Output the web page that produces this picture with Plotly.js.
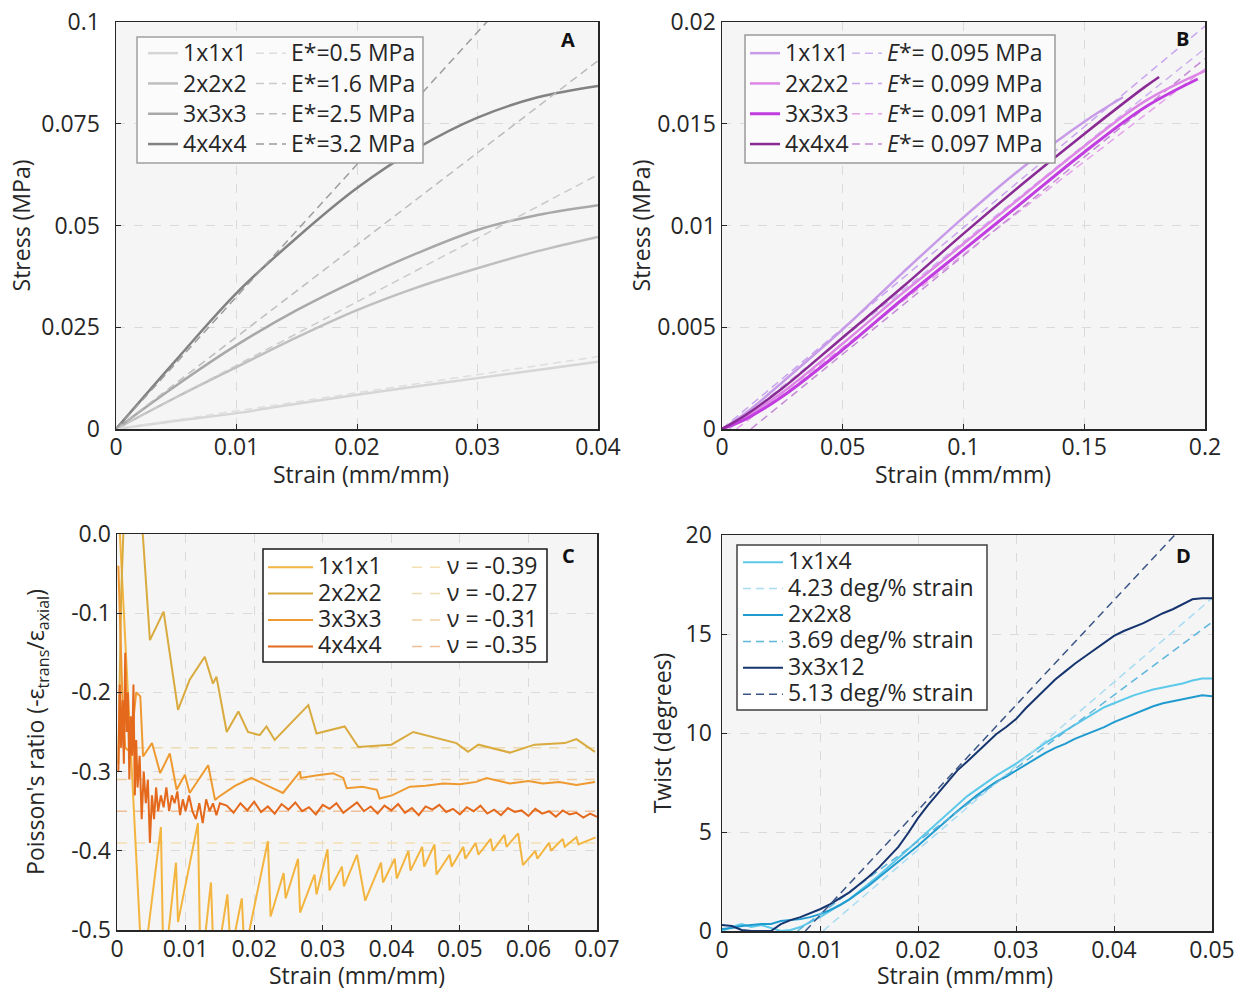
<!DOCTYPE html>
<html><head><meta charset="utf-8">
<script src="https://cdn.plot.ly/plotly-3.0.1.min.js"></script>
<style>html,body{margin:0;padding:0;background:#fff}</style>
</head><body><div id="chart" style="width:1250px;height:992px"></div>
<script>
// ---------- Panel A : stress-strain (gray) ----------
const strainA = [0, 0.005, 0.01, 0.015, 0.02, 0.025, 0.03, 0.035, 0.04];
const stressA1 = [0, 0.002, 0.0039, 0.0062, 0.0084, 0.0105, 0.0125, 0.0145, 0.0165];
const stressA2 = [0, 0.0078, 0.0152, 0.0225, 0.0292, 0.0348, 0.0395, 0.0437, 0.0472];
const stressA3 = [0, 0.0107, 0.0206, 0.0292, 0.0366, 0.0432, 0.0489, 0.0526, 0.055];
const stressA4 = [0, 0.017, 0.0334, 0.047, 0.0592, 0.069, 0.0765, 0.0815, 0.0843];
const fitStrainA = [0, 0.04];
const fitStressA = [[0, 0.0178], [0, 0.0625], [0, 0.0905], [0, 0.13]];
const namesA = ['1x1x1', '2x2x2', '3x3x3', '4x4x4'];
const fitNamesA = ['E*=0.5 MPa', 'E*=1.6 MPa', 'E*=2.5 MPa', 'E*=3.2 MPa'];

// ---------- Panel B : stress-strain (purple) ----------
const strainB1 = [0, 0.01, 0.025, 0.05, 0.075, 0.1, 0.125, 0.15, 0.166];
const stressB1 = [0, 0.0008, 0.0023, 0.0049, 0.0077, 0.0104, 0.0129, 0.0151, 0.0163];
const strainB2 = [0, 0.01, 0.025, 0.05, 0.075, 0.1, 0.125, 0.15, 0.175, 0.2];
const stressB2 = [0, 0.0006, 0.0018, 0.0042, 0.0067, 0.0091, 0.0115, 0.0139, 0.0161, 0.0176];
const strainB3 = [0, 0.01, 0.025, 0.05, 0.075, 0.1, 0.125, 0.15, 0.175, 0.197];
const stressB3 = [0, 0.0005, 0.0016, 0.0039, 0.0064, 0.0088, 0.0112, 0.0136, 0.0158, 0.0172];
const strainB4 = [0, 0.01, 0.025, 0.05, 0.075, 0.1, 0.125, 0.15, 0.175, 0.181];
const stressB4 = [0, 0.0007, 0.002, 0.0045, 0.0070, 0.0096, 0.0121, 0.0145, 0.0168, 0.0173];
const fitStrainB = [[0.003, 0.2], [0, 0.2], [0.006, 0.2], [0.012, 0.2]];
const fitStressB = [[0, 0.0187], [0, 0.0198], [0, 0.0177], [0, 0.0182]];
const fitNamesB = ['<i>E</i>*= 0.095 MPa', '<i>E</i>*= 0.099 MPa', '<i>E</i>*= 0.091 MPa', '<i>E</i>*= 0.097 MPa'];

// ---------- Panel C : Poisson's ratio ----------
const strainC1 = [0.0003,0.0037,0.0064,0.0068,0.0086,0.0089,0.0118,0.0122,0.0137,0.0142,0.0161,0.0166,0.0182,0.0186,0.0220,0.0224,0.0243,0.0246,0.0264,0.0267,0.0288,0.0291,0.0307,0.0310,0.0328,0.0331,0.0350,0.0362,0.0385,0.0388,0.0405,0.0408,0.0425,0.0428,0.0445,0.0448,0.0463,0.0466,0.0485,0.0488,0.0505,0.0508,0.0523,0.0527,0.0545,0.0548,0.0565,0.0568,0.0585,0.0592,0.0610,0.0613,0.0630,0.0633,0.0650,0.0653,0.0670,0.0673,0.0698];
const poissonC1 = [0.02,-0.56,-0.37,-0.56,-0.415,-0.49,-0.365,-0.56,-0.44,-0.56,-0.455,-0.53,-0.46,-0.53,-0.388,-0.483,-0.428,-0.46,-0.41,-0.478,-0.43,-0.455,-0.398,-0.45,-0.42,-0.445,-0.405,-0.463,-0.415,-0.44,-0.41,-0.435,-0.40,-0.425,-0.395,-0.42,-0.392,-0.43,-0.405,-0.42,-0.395,-0.41,-0.39,-0.405,-0.385,-0.40,-0.38,-0.395,-0.378,-0.418,-0.40,-0.41,-0.39,-0.40,-0.385,-0.395,-0.383,-0.392,-0.383];
const strainC2 = [0.0002,0.0006,0.0010,0.0036,0.0048,0.0068,0.0089,0.0106,0.0128,0.0140,0.0145,0.0160,0.0177,0.0191,0.0208,0.0218,0.0230,0.0279,0.0291,0.0332,0.0352,0.0400,0.0432,0.0495,0.0512,0.0527,0.0573,0.0609,0.0653,0.0670,0.0697];
const poissonC2 = [-0.29,-0.08,0.02,0.02,-0.134,-0.098,-0.222,-0.184,-0.155,-0.189,-0.18,-0.25,-0.224,-0.25,-0.254,-0.243,-0.26,-0.216,-0.252,-0.243,-0.269,-0.266,-0.25,-0.264,-0.275,-0.266,-0.276,-0.266,-0.264,-0.259,-0.275];
const strainC3 = [0.0002,0.0008,0.0012,0.0019,0.0028,0.0034,0.0038,0.0051,0.0063,0.0077,0.0087,0.0099,0.0106,0.0133,0.0143,0.0148,0.0172,0.0196,0.0220,0.0242,0.0267,0.0268,0.0290,0.0315,0.0330,0.0335,0.0358,0.0379,0.0383,0.0401,0.0427,0.0450,0.0476,0.0500,0.0524,0.0539,0.0573,0.0600,0.0621,0.0645,0.0670,0.0697];
const poissonC3 = [-0.04,-0.21,-0.27,-0.275,-0.20,-0.205,-0.281,-0.264,-0.302,-0.277,-0.323,-0.304,-0.327,-0.292,-0.336,-0.332,-0.318,-0.308,-0.318,-0.327,-0.300,-0.308,-0.305,-0.302,-0.308,-0.321,-0.319,-0.323,-0.334,-0.330,-0.319,-0.318,-0.315,-0.316,-0.313,-0.308,-0.315,-0.312,-0.315,-0.313,-0.317,-0.313];
const strainC4 = [0.0002,0.0004,0.0006,0.0008,0.0010,0.0012,0.0014,0.0016,0.0018,0.0020,0.0022,0.0024,0.0026,0.0028,0.0030,0.0033,0.0036,0.0039,0.0042,0.0045,0.0048,0.0051,0.0054,0.0057,0.0060,0.0064,0.0068,0.0072,0.0076,0.0080,0.0084,0.0088,0.0092,0.0096,0.0100,0.0105,0.0110,0.0115,0.0120,0.0125,0.0130,0.0135,0.0140,0.0145,0.0150,
  0.016,0.017,0.018,0.019,0.020,0.021,0.022,0.023,0.024,0.025,0.026,0.027,0.028,0.029,0.030,0.031,0.032,0.033,0.034,0.035,0.036,0.037,0.038,0.039,0.040,0.041,0.042,0.043,0.044,0.045,0.046,0.047,0.048,0.049,0.050,0.051,0.052,0.053,0.054,0.055,0.056,0.057,0.058,0.059,0.060,0.061,0.062,0.063,0.064,0.065,0.066,0.067,0.068,0.069,0.070];
const poissonC4 = [-0.30,-0.19,-0.27,-0.21,-0.29,-0.15,-0.25,-0.20,-0.31,-0.23,-0.28,-0.19,-0.33,-0.26,-0.32,-0.28,-0.36,-0.30,-0.34,-0.31,-0.39,-0.33,-0.36,-0.32,-0.35,-0.33,-0.345,-0.32,-0.35,-0.33,-0.34,-0.325,-0.355,-0.335,-0.35,-0.33,-0.35,-0.36,-0.34,-0.365,-0.335,-0.35,-0.34,-0.355,-0.34,
  -0.343,-0.352,-0.340,-0.349,-0.338,-0.351,-0.344,-0.353,-0.341,-0.348,-0.339,-0.350,-0.345,-0.354,-0.342,-0.347,-0.340,-0.352,-0.346,-0.339,-0.350,-0.344,-0.353,-0.343,-0.349,-0.341,-0.352,-0.346,-0.355,-0.344,-0.348,-0.342,-0.351,-0.347,-0.354,-0.345,-0.350,-0.343,-0.353,-0.348,-0.355,-0.346,-0.351,-0.349,-0.356,-0.347,-0.353,-0.350,-0.357,-0.349,-0.354,-0.352,-0.358,-0.353,-0.357];
const fitStrainC = [0, 0.07];
const nuFitC = [-0.39, -0.27, -0.31, -0.35];

// ---------- Panel D : twist ----------
const strainD = [0,0.001,0.002,0.003,0.004,0.005,0.006,0.007,0.008,0.009,0.010,0.011,0.012,0.013,0.014,0.015,0.016,0.017,0.018,0.019,0.020,0.021,0.022,0.023,0.024,0.025,0.026,0.027,0.028,0.029,0.030,0.031,0.032,0.033,0.034,0.035,0.036,0.037,0.038,0.039,0.040,0.041,0.042,0.043,0.044,0.045,0.046,0.047,0.048,0.049,0.050];
const twistD1 = [0.0,0.2,0.35,0.2,0.3,0.15,0.0,0.05,0.2,0.45,0.7,1.0,1.3,1.6,2.0,2.4,2.8,3.25,3.7,4.15,4.6,5.05,5.5,5.95,6.4,6.8,7.15,7.5,7.85,8.15,8.45,8.8,9.15,9.5,9.8,10.1,10.4,10.7,11.0,11.3,11.5,11.7,11.9,12.05,12.2,12.3,12.4,12.5,12.65,12.75,12.75];
const twistD2 = [0.1,0.15,0.25,0.3,0.35,0.35,0.5,0.55,0.6,0.7,0.85,1.05,1.3,1.6,1.95,2.3,2.7,3.1,3.5,3.9,4.3,4.75,5.2,5.6,6.05,6.45,6.85,7.2,7.55,7.8,8.1,8.4,8.7,9.0,9.25,9.45,9.7,9.9,10.1,10.3,10.55,10.75,10.95,11.15,11.35,11.5,11.6,11.7,11.8,11.9,11.85];
const twistD3 = [0.3,0.25,0.05,0.0,0.0,0.0,0.35,0.55,0.7,0.9,1.1,1.35,1.65,1.95,2.35,2.75,3.2,3.7,4.25,4.95,5.7,6.35,6.95,7.55,8.1,8.55,9.0,9.5,9.95,10.3,10.7,11.25,11.75,12.2,12.7,13.1,13.5,13.85,14.2,14.55,14.9,15.15,15.35,15.55,15.8,16.05,16.25,16.5,16.75,16.8,16.8];
const fitStrainD = [[0.0103, 0.05], [0.0077, 0.05], [0.0085, 0.0462]];
const fitTwistD = [[0, 16.8], [0, 15.6], [0, 20]];
const namesD = ['1x1x4', '2x2x8', '3x3x12'];
const fitNamesD = ['4.23 deg/% strain', '3.69 deg/% strain', '5.13 deg/% strain'];

// ---------- styling ----------
const F = '"Open Sans", "Noto Sans", sans-serif';
const TXT = '#262626';
const big = s => '<span style="font-size:23px">' + s + '</span>';

const colA = ['#d6d6d6', '#bfbfbf', '#a8a8a8', '#828282'];
const colAfit = ['#dedede', '#cacaca', '#bcbcbc', '#9c9c9c'];
const colB = ['#c79be8', '#dd86e6', '#c23de0', '#8a2a95'];
const colBfit = ['#cdb4ee', '#c9a4ee', '#e6a2ec', '#c58ad6'];
const colC = ['#f3b53f', '#d9aa3e', '#ee9a30', '#e4691c'];
const colCfit = ['#f2e0b0', '#ecdcb4', '#efcfa2', '#eebf98'];
const colD = ['#5cc8ea', '#1f9bcf', '#16346e'];
const colDfit = ['#a9dcf2', '#5fb6dc', '#3a5586'];

const traces = [];
const stressA = [stressA1, stressA2, stressA3, stressA4];
namesA.forEach((n, i) => traces.push({x: strainA, y: stressA[i], type: 'scatter', mode: 'lines', name: big(n),
  line: {color: colA[i], width: 2.5, shape: 'spline'}, xaxis: 'x', yaxis: 'y', legend: 'legend'}));
fitNamesA.forEach((n, i) => traces.push({x: fitStrainA, y: fitStressA[i], type: 'scatter', mode: 'lines', name: big(n),
  line: {color: colAfit[i], width: 1.5, dash: '8px,5px'}, xaxis: 'x', yaxis: 'y', legend: 'legend2'}));

const strainB = [strainB1, strainB2, strainB3, strainB4];
const stressB = [stressB1, stressB2, stressB3, stressB4];
fitNamesB.forEach((n, i) => traces.push({x: fitStrainB[i], y: fitStressB[i], type: 'scatter', mode: 'lines', name: big(n),
  line: {color: colBfit[i], width: 1.5, dash: '8px,5px'}, xaxis: 'x2', yaxis: 'y2', legend: 'legend4'}));
namesA.forEach((n, i) => traces.push({x: strainB[i], y: stressB[i], type: 'scatter', mode: 'lines', name: big(n),
  line: {color: colB[i], width: i === 2 ? 3 : 2.5, shape: 'spline'}, xaxis: 'x2', yaxis: 'y2', legend: 'legend3'}));

const strainC = [strainC1, strainC2, strainC3, strainC4];
const poissonC = [poissonC1, poissonC2, poissonC3, poissonC4];
nuFitC.forEach((v, i) => traces.push({x: fitStrainC, y: [v, v], type: 'scatter', mode: 'lines', name: big('ν = ' + v.toFixed(2)),
  line: {color: colCfit[i], width: 1.5, dash: '10px,8px'}, xaxis: 'x3', yaxis: 'y3', legend: 'legend6'}));
namesA.forEach((n, i) => traces.push({x: strainC[i], y: poissonC[i], type: 'scatter', mode: 'lines', name: big(n),
  line: {color: colC[i], width: 2}, xaxis: 'x3', yaxis: 'y3', legend: 'legend5'}));

const twistD = [twistD1, twistD2, twistD3];
namesD.forEach((n, i) => {
  traces.push({x: strainD, y: twistD[i], type: 'scatter', mode: 'lines', name: big(n),
    line: {color: colD[i], width: 2}, xaxis: 'x4', yaxis: 'y4', legend: 'legend7'});
  traces.push({x: fitStrainD[i], y: fitTwistD[i], type: 'scatter', mode: 'lines', name: big(fitNamesD[i]),
    line: {color: colDfit[i], width: 1.5, dash: '8px,5px'}, xaxis: 'x4', yaxis: 'y4', legend: 'legend7'});
});

function axis(domain, range, vals, texts, title, anchor, standoff, labStand) {
  const a = {
    domain: domain, range: range, anchor: anchor, tickmode: 'array', tickvals: vals, ticktext: texts,
    showline: true, linecolor: TXT, linewidth: 1.5, mirror: true,
    ticks: 'inside', ticklen: 5, tickcolor: TXT, tickwidth: 1,
    showgrid: true, gridcolor: '#dadada', griddash: 'dash', gridwidth: 1, zeroline: false,
    tickfont: {family: F, size: 23, color: TXT}, ticklabelstandoff: labStand,
    automargin: false, fixedrange: true
  };
  if (title) a.title = {text: title, font: {family: F, size: 23, color: TXT}, standoff: standoff};
  return a;
}
const px = X => X / 1250, py = Y => 1 - Y / 992;
const xTitle = 'Strain (mm/mm)';

const layout = {
  width: 1250, height: 992, margin: {l: 0, r: 0, t: 0, b: 0},
  paper_bgcolor: '#ffffff', plot_bgcolor: '#f5f5f5', font: {family: F, color: TXT},
  xaxis: axis([px(116), px(598)], [0, 0.04], [0, 0.01, 0.02, 0.03, 0.04], ['0', '0.01', '0.02', '0.03', '0.04'], null, 'y', 0, -3),
  yaxis: axis([py(429), py(22)], [0, 0.1], [0, 0.025, 0.05, 0.075, 0.1], ['0', '0.025', '0.05', '0.075', '0.1'], 'Stress (MPa)', 'x', 4, 10),
  xaxis2: axis([px(722), px(1205)], [0, 0.2], [0, 0.05, 0.1, 0.15, 0.2], ['0', '0.05', '0.1', '0.15', '0.2'], null, 'y2', 0, -3),
  yaxis2: axis([py(429), py(22)], [0, 0.02], [0, 0.005, 0.01, 0.015, 0.02], ['0', '0.005', '0.01', '0.015', '0.02'], 'Stress (MPa)', 'x2', 0, 0),
  xaxis3: axis([px(117), px(597)], [0, 0.07], [0, 0.01, 0.02, 0.03, 0.04, 0.05, 0.06, 0.07], ['0', '0.01', '0.02', '0.03', '0.04', '0.05', '0.06', '0.07'], null, 'y3', 0, -2),
  yaxis3: axis([py(930), py(534)], [-0.5, 0], [-0.5, -0.4, -0.3, -0.2, -0.1, 0], ['-0.5', '-0.4', '-0.3', '-0.2', '-0.1', '0.0'], "Poisson's ratio (-ε<sub>trans</sub>/ε<sub>axial</sub>)", 'x3', 20, 0),
  xaxis4: axis([px(722), px(1212)], [0, 0.05], [0, 0.01, 0.02, 0.03, 0.04, 0.05], ['0', '0.01', '0.02', '0.03', '0.04', '0.05'], null, 'y4', 0, -2),
  yaxis4: axis([py(931), py(535)], [0, 20], [0, 5, 10, 15, 20], ['0', '5', '10', '15', '20'], 'Twist (degrees)', 'x4', 7, 4),
  showlegend: true,
  shapes: [
    {type: 'rect', xref: 'paper', yref: 'paper', x0: px(137), x1: px(423), y0: py(163), y1: py(37), fillcolor: '#fbfbfb', line: {color: '#a0a0a0', width: 1.5}, layer: 'above'},
    {type: 'rect', xref: 'paper', yref: 'paper', x0: px(745), x1: px(1055), y0: py(163), y1: py(35), fillcolor: '#fbfbfb', line: {color: '#9a9a9a', width: 1.5}, layer: 'above'},
    {type: 'rect', xref: 'paper', yref: 'paper', x0: px(263), x1: px(547), y0: py(662), y1: py(549), fillcolor: '#ffffff', line: {color: '#1a1a1a', width: 1.5}, layer: 'above'},
    {type: 'rect', xref: 'paper', yref: 'paper', x0: px(737), x1: px(987), y0: py(710), y1: py(545), fillcolor: '#ffffff', line: {color: '#404040', width: 1.5}, layer: 'above'}
  ],
  annotations: [
    ['A', 568, 40], ['B', 1182, 39], ['C', 568, 555], ['D', 1183, 555]
  ].map(a => ({text: '<b>' + a[0] + '</b>', xref: 'paper', yref: 'paper', x: px(a[1]), y: py(a[2]), xanchor: 'center', yanchor: 'middle', showarrow: false, font: {family: F, size: 20, color: '#111'}}))
  .concat([[361, 474], [963, 474], [357, 975], [965, 975]].map(a => ({text: xTitle, xref: 'paper', yref: 'paper', x: px(a[0]), y: py(a[1]),
    xanchor: 'center', yanchor: 'middle', showarrow: false, font: {family: F, size: 23, color: TXT}})))
};
const legBase = (x, y, size, iw) => ({x: x, y: y, xanchor: 'left', yanchor: 'top', bgcolor: 'rgba(0,0,0,0)', borderwidth: 0,
  font: {family: F, size: size, color: TXT}, itemwidth: iw, traceorder: 'normal', tracegroupgap: 0, itemclick: false, itemdoubleclick: false});
layout.legend = legBase(px(143), py(33), 21, 30);
layout.legend2 = legBase(px(251), py(33), 21, 30);
layout.legend3 = legBase(px(745), py(33), 21, 30);
layout.legend4 = legBase(px(847), py(33), 21, 30);
layout.legend5 = legBase(px(263), py(549), 18, 45);
layout.legend6 = legBase(px(407), py(549), 18, 30);
layout.legend7 = legBase(px(738), py(544), 18, 40);

Plotly.newPlot('chart', traces, layout, {staticPlot: true, displayModeBar: false});
</script></body></html>
